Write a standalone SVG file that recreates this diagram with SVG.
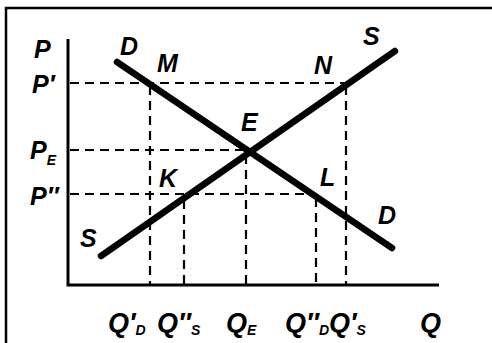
<svg xmlns="http://www.w3.org/2000/svg" width="492" height="343" viewBox="0 0 492 343">
<style>
.lbl{font-family:"Liberation Sans",Arial,sans-serif;font-style:italic;font-weight:bold;font-size:25px;fill:#000}
.q{font-size:27px}
.sub{font-size:14px}
.dash{stroke:#000;stroke-width:2.2;stroke-dasharray:9,6;fill:none}
.curve{stroke:#000;stroke-width:6.5;stroke-linecap:round;fill:none}
.axis{stroke:#000;stroke-width:3;fill:none}
</style>
<rect width="492" height="343" fill="#fff"/>
<g id="frame">
<path d="M6,343 V8 H492" stroke="#000" stroke-width="2.5" fill="none"/>
</g>
<g id="axes">
<path class="axis" d="M68,39 V285 H439"/>
</g>
<g id="connectors">
<path class="dash" d="M70,83 H346"/>
<path class="dash" d="M70,150 H245"/>
<path class="dash" d="M70,194 H316"/>
<path class="dash" d="M150,86 V284"/>
<path class="dash" d="M184,200 V284"/>
<path class="dash" d="M246,155 V284"/>
<path class="dash" d="M316,198 V284"/>
<path class="dash" d="M346,86 V284"/>
</g>
<g id="demand">
<path class="curve" d="M117,62 L392,248"/>
</g>
<g id="supply">
<path class="curve" d="M101,256 L395,51"/>
</g>
<g id="labels">
<text class="lbl" x="34" y="58">P</text>
<text class="lbl" x="32" y="93">P′</text>
<text class="lbl" x="30" y="159">P<tspan class="sub" dy="6">E</tspan></text>
<text class="lbl" x="30" y="205">P″</text>
<text class="lbl" x="120" y="55">D</text>
<text class="lbl" x="157" y="72">M</text>
<text class="lbl" x="314" y="74">N</text>
<text class="lbl" x="363" y="45">S</text>
<text class="lbl" x="241" y="131">E</text>
<text class="lbl" x="159" y="187">K</text>
<text class="lbl" x="320" y="186">L</text>
<text class="lbl" x="378" y="224">D</text>
<text class="lbl" x="80" y="247">S</text>
<text class="lbl q" x="108" y="332">Q′<tspan class="sub" dy="3">D</tspan></text>
<text class="lbl q" x="157" y="332">Q″<tspan class="sub" dy="3">S</tspan></text>
<text class="lbl q" x="226" y="332">Q<tspan class="sub" dy="3">E</tspan></text>
<text class="lbl q" x="285" y="332">Q″<tspan class="sub" dy="3">D</tspan></text>
<text class="lbl q" x="329" y="332">Q′<tspan class="sub" dy="3">S</tspan></text>
<text class="lbl q" x="420" y="332">Q</text>
</g>
</svg>
